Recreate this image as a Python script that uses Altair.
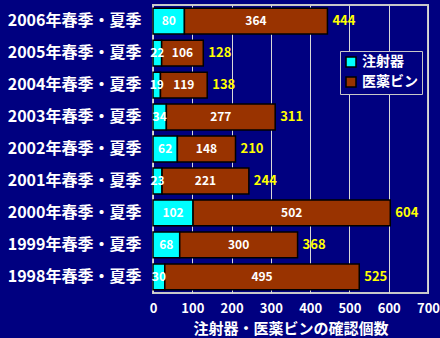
import altair as alt
import pandas as pd

years = ["2006年春季・夏季", "2005年春季・夏季", "2004年春季・夏季", "2003年春季・夏季",
         "2002年春季・夏季", "2001年春季・夏季", "2000年春季・夏季", "1999年春季・夏季",
         "1998年春季・夏季"]
syringes = [80, 22, 19, 34, 62, 23, 102, 68, 30]
bottles = [364, 106, 119, 277, 148, 221, 502, 300, 495]
series_names = ["注射器", "医薬ビン"]
colors = ["#00FFFF", "#993300"]
tick_values = [0, 100, 200, 300, 400, 500, 600, 700]
x_title = "注射器・医薬ビンの確認個数"

rows = []
for y, s, b in zip(years, syringes, bottles):
    rows.append({"year": y, "series": series_names[0], "start": 0, "end": s, "value": s, "total": s + b})
    rows.append({"year": y, "series": series_names[1], "start": s, "end": s + b, "value": b, "total": s + b})
df = pd.DataFrame(rows)
df["mid"] = (df["start"] + df["end"]) / 2

FONT = "Noto Sans CJK JP"
xscale = alt.Scale(domain=[0, 700])
yscale = alt.Scale(paddingInner=0.19, paddingOuter=0.1)
xaxis = alt.Axis(values=tick_values, labelOverlap=False, labelFlush=False,
                 labelColor="white", labelFont=FONT, labelFontSize=13,
                 labelFontWeight="bold", labelPadding=9, ticks=False,
                 domain=False, grid=True, gridColor="#D8D8D8", gridWidth=1,
                 gridOpacity=1,
                 titleColor="white", titleFont=FONT, titleFontSize=15,
                 titleFontWeight="bold", titlePadding=6)
yaxis = alt.Axis(labelColor="white", labelFont=FONT, labelFontSize=16,
                 labelFontWeight="bold", labelPadding=12, ticks=False,
                 domain=False, labelLimit=300, grid=False)


def xenc(field):
    return alt.X(field, scale=xscale, title=x_title, axis=xaxis)


yenc = alt.Y("year:N", sort=years, title=None, scale=yscale, axis=yaxis)

bars = alt.Chart(df).mark_bar(stroke="black", strokeWidth=1.5).encode(
    x=xenc("start:Q"),
    x2="end:Q",
    y=yenc,
    color=alt.Color("series:N", sort=series_names,
                    scale=alt.Scale(domain=series_names, range=colors),
                    legend=alt.Legend(title=None, orient="none", legendX=187, legendY=46,
                                      symbolType="square", symbolSize=100,
                                      symbolStrokeColor="black", symbolStrokeWidth=1.5,
                                      labelColor="white", labelFont=FONT, labelFontSize=14,
                                      labelFontWeight="bold", fillColor="#000080",
                                      strokeColor="#C8C8C8", padding=4, rowPadding=4,
                                      labelLimit=200)),
)

inner = alt.Chart(df).mark_text(color="white", font=FONT, fontSize=12, fontWeight="bold").encode(
    x=xenc("mid:Q"), y=yenc, text="value:Q")

totals = alt.Chart(df[df["series"] == series_names[1]]).mark_text(
    color="#FFFF00", font=FONT, fontSize=13, fontWeight="bold", align="left", dx=5).encode(
    x=xenc("total:Q"), y=yenc, text="total:Q")

chart = alt.layer(bars, inner, totals).properties(
    width=275, height=288, background="#000080",
    padding={"left": 153, "top": 5, "right": 12, "bottom": 45},
    autosize=alt.AutoSizeParams(type="none"),
).configure_view(stroke="#C8C8C8", strokeWidth=2, fill="#000080")

chart.save("out.html", embed_options={"renderer": "svg", "actions": False})
